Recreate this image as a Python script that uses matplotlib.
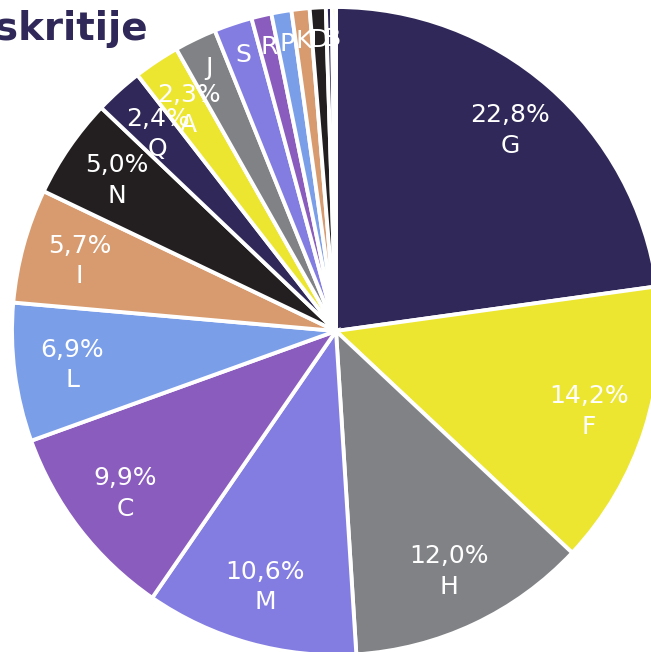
import matplotlib
matplotlib.use("Agg")
import matplotlib.pyplot as plt
import numpy as np

categories = ["G", "F", "H", "M", "C", "L", "I", "N", "Q", "A",
              "J", "S", "R", "P", "K", "D", "B", "E"]
values = [22.8, 14.2, 12.0, 10.6, 9.9, 6.9, 5.7, 5.0, 2.4, 2.3,
          2.1, 1.9, 1.0, 1.0, 0.9, 0.8, 0.3, 0.2]
palette = ["#2f2858", "#ece631", "#808285", "#837de2",
           "#8a5cbe", "#7b9ee9", "#d79b6f", "#231f20"]
title = "skritije"

W, H = 651, 652
fig = plt.figure(figsize=(W / 100, H / 100), dpi=100)
ax = fig.add_axes([0, 0, 1, 1])
cx, cy, R = 336, 331, 324

colors = [palette[i % len(palette)] for i in range(len(values))]
wedges, _ = ax.pie(values, colors=colors, startangle=90, counterclock=False,
                   radius=1.0, center=(0, 0), frame=True,
                   wedgeprops=dict(edgecolor="white", linewidth=2.8))
ax.set_xlim(-cx / R, (W - cx) / R)
ax.set_ylim(-(H - cy) / R, cy / R)
ax.set_aspect("auto")
ax.axis("off")

for w, name, v in zip(wedges, categories, values):
    mid = np.deg2rad((w.theta1 + w.theta2) / 2)
    if v >= 2.25:
        r = 0.82
        txt = f"{v:.1f}".replace(".", ",") + "%\n" + name
    elif v >= 0.3:
        r = 0.9
        txt = name
    else:
        continue
    x, y = r * np.cos(mid), r * np.sin(mid)
    if name == "B":
        x += 3 / R
    ax.text(x, y, txt, ha="center", va="center",
            color="white", fontsize=18, linespacing=1.35)

fig.text(148 / W, 1 - 40 / H, title, ha="right", va="baseline", fontsize=28,
         fontweight="bold", color="#2f2858")

fig.savefig("out.png", dpi=100)
